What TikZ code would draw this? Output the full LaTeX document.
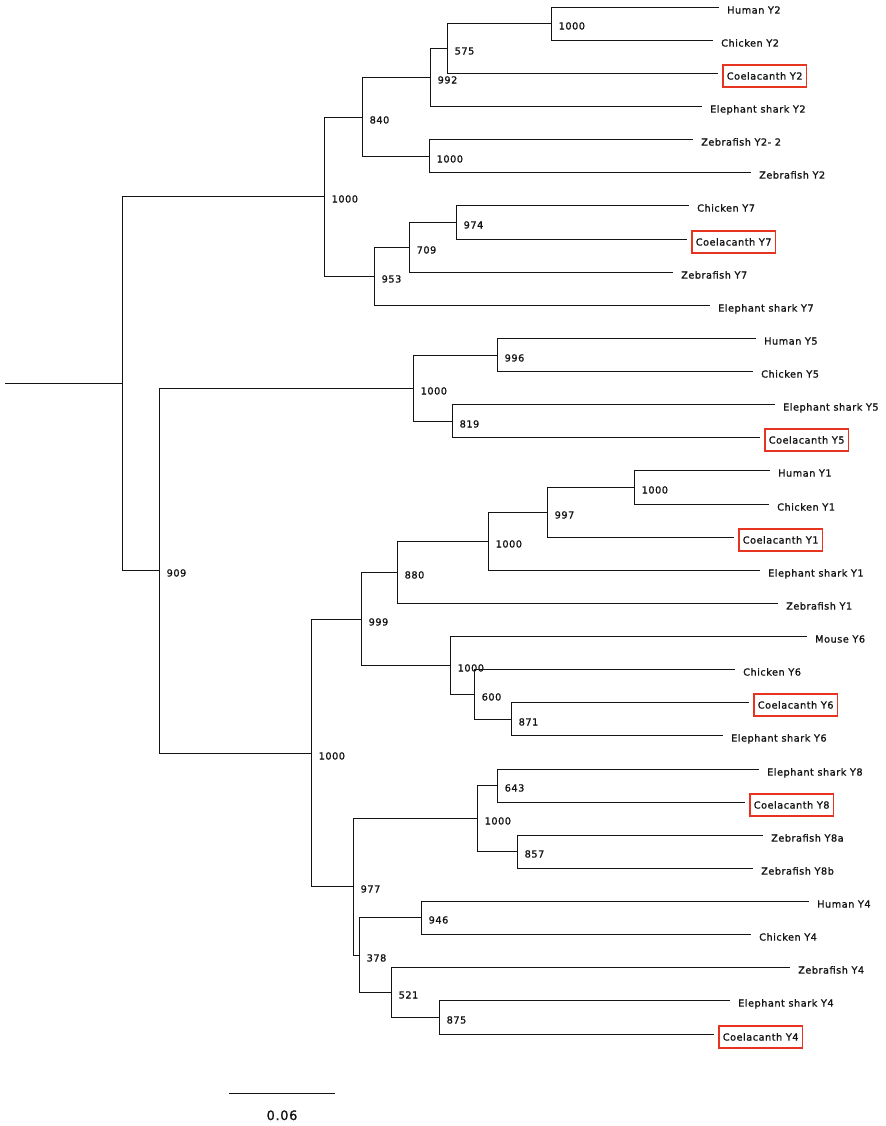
\documentclass[tikz,border=0pt]{standalone}
\usepackage{fontspec}
\newfontfamily\treefont[LetterSpace=5,FakeBold=1.2]{DejaVu Sans}
\usetikzlibrary{positioning}
\definecolor{coelared}{RGB}{230,52,32}
\definecolor{branchgray}{RGB}{20,20,20}

\begin{document}
\begin{tikzpicture}[x=1bp,y=-1bp,
		branch/.style={line width=1.7bp,draw=branchgray},
		leaf/.style={font=\treefont\fontsize{9.8}{11}\selectfont,text=branchgray,inner xsep=4bp,inner ysep=0pt,minimum height=22bp,text height=7.2pt,text depth=0pt,yshift=-2.5bp},
		gene/.style={leaf,draw=coelared,line width=1.6bp},
		boot/.style={font=\treefont\fontsize{9.8}{11}\selectfont,text=branchgray,anchor=base west,inner sep=0pt,xshift=7bp,yshift=-6bp}]
		\useasboundingbox (0,0) rectangle (886,1126);

		\coordinate (HumanY2) at (719,7.5);
		\coordinate (ChickenY2) at (713,40.5);
		\coordinate (CoelacanthY2) at (718,73.5);
		\coordinate (ElephantSharkY2) at (702,106.5);
		\coordinate (ZebrafishY2two) at (693,139.5);
		\coordinate (ZebrafishY2) at (751,172.5);
		\coordinate (ChickenY7) at (689,205.5);
		\coordinate (CoelacanthY7) at (687,239.5);
		\coordinate (ZebrafishY7) at (673,272.5);
		\coordinate (ElephantSharkY7) at (710,305.5);
		\coordinate (HumanY5) at (756,338.5);
		\coordinate (ChickenY5) at (753,371.5);
		\coordinate (ElephantSharkY5) at (775,404.5);
		\coordinate (CoelacanthY5) at (760,437.5);
		\coordinate (HumanY1) at (770,470.5);
		\coordinate (ChickenY1) at (769,504.5);
		\coordinate (CoelacanthY1) at (734,537.5);
		\coordinate (ElephantSharkY1) at (760,570.5);
		\coordinate (ZebrafishY1) at (778,603.5);
		\coordinate (MouseY6) at (807,636.5);
		\coordinate (ChickenY6) at (735,669.5);
		\coordinate (CoelacanthY6) at (749,702.5);
		\coordinate (ElephantSharkY6) at (723,735.5);
		\coordinate (ElephantSharkY8) at (759,769.5);
		\coordinate (CoelacanthY8) at (745,802.5);
		\coordinate (ZebrafishY8a) at (763,835.5);
		\coordinate (ZebrafishY8b) at (753,868.5);
		\coordinate (HumanY4) at (809,901.5);
		\coordinate (ChickenY4) at (751,934.5);
		\coordinate (ZebrafishY4) at (790,967.5);
		\coordinate (ElephantSharkY4) at (730,1000.5);
		\coordinate (CoelacanthY4) at (714,1034.5);

		\node[leaf, right=4bp of HumanY2] (HumanY2Text) {Human Y2};
		\node[leaf, right=4bp of ChickenY2] (ChickenY2Text) {Chicken Y2};
		\node[gene, right=4bp of CoelacanthY2] (CoelacanthY2Text) {Coelacanth Y2};
		\node[leaf, right=4bp of ElephantSharkY2] (ElephantSharkY2Text) {Elephant shark Y2};
		\node[leaf, right=4bp of ZebrafishY2two] (ZebrafishY2twoText) {Zebrafish Y2- 2};
		\node[leaf, right=4bp of ZebrafishY2] (ZebrafishY2Text) {Zebrafish Y2};
		\node[leaf, right=4bp of ChickenY7] (ChickenY7Text) {Chicken Y7};
		\node[gene, right=4bp of CoelacanthY7] (CoelacanthY7Text) {Coelacanth Y7};
		\node[leaf, right=4bp of ZebrafishY7] (ZebrafishY7Text) {Zebrafish Y7};
		\node[leaf, right=4bp of ElephantSharkY7] (ElephantSharkY7Text) {Elephant shark Y7};
		\node[leaf, right=4bp of HumanY5] (HumanY5Text) {Human Y5};
		\node[leaf, right=4bp of ChickenY5] (ChickenY5Text) {Chicken Y5};
		\node[leaf, right=4bp of ElephantSharkY5] (ElephantSharkY5Text) {Elephant shark Y5};
		\node[gene, right=4bp of CoelacanthY5] (CoelacanthY5Text) {Coelacanth Y5};
		\node[leaf, right=4bp of HumanY1] (HumanY1Text) {Human Y1};
		\node[leaf, right=4bp of ChickenY1] (ChickenY1Text) {Chicken Y1};
		\node[gene, right=4bp of CoelacanthY1] (CoelacanthY1Text) {Coelacanth Y1};
		\node[leaf, right=4bp of ElephantSharkY1] (ElephantSharkY1Text) {Elephant shark Y1};
		\node[leaf, right=4bp of ZebrafishY1] (ZebrafishY1Text) {Zebrafish Y1};
		\node[leaf, right=4bp of MouseY6] (MouseY6Text) {Mouse Y6};
		\node[leaf, right=4bp of ChickenY6] (ChickenY6Text) {Chicken Y6};
		\node[gene, right=4bp of CoelacanthY6] (CoelacanthY6Text) {Coelacanth Y6};
		\node[leaf, right=4bp of ElephantSharkY6] (ElephantSharkY6Text) {Elephant shark Y6};
		\node[leaf, right=4bp of ElephantSharkY8] (ElephantSharkY8Text) {Elephant shark Y8};
		\node[gene, right=4bp of CoelacanthY8] (CoelacanthY8Text) {Coelacanth Y8};
		\node[leaf, right=4bp of ZebrafishY8a] (ZebrafishY8aText) {Zebrafish Y8a};
		\node[leaf, right=4bp of ZebrafishY8b] (ZebrafishY8bText) {Zebrafish Y8b};
		\node[leaf, right=4bp of HumanY4] (HumanY4Text) {Human Y4};
		\node[leaf, right=4bp of ChickenY4] (ChickenY4Text) {Chicken Y4};
		\node[leaf, right=4bp of ZebrafishY4] (ZebrafishY4Text) {Zebrafish Y4};
		\node[leaf, right=4bp of ElephantSharkY4] (ElephantSharkY4Text) {Elephant shark Y4};
		\node[gene, right=4bp of CoelacanthY4] (CoelacanthY4Text) {Coelacanth Y4};

		\coordinate (N1000Y2) at (551.5,23.5);
		\coordinate (N575) at (447.5,48.5);
		\coordinate (N992) at (430.5,77.5);
		\coordinate (N1000Zf) at (429.5,156.5);
		\coordinate (N840) at (362.5,117.5);
		\coordinate (N974) at (456.5,222.5);
		\coordinate (N709) at (409.5,247.5);
		\coordinate (N953) at (374.5,276.5);
		\coordinate (N1000Y27) at (324.5,196.5);
		\coordinate (N996) at (497.5,355.5);
		\coordinate (N819) at (452.5,421.5);
		\coordinate (N1000Y5) at (413.5,388.5);
		\coordinate (N1000Y1a) at (634.5,487.5);
		\coordinate (N997) at (547.5,512.5);
		\coordinate (N1000Y1b) at (488.5,541.5);
		\coordinate (N880) at (397.5,572.5);
		\coordinate (N871) at (511.5,719.5);
		\coordinate (N600) at (474.5,694.5);
		\coordinate (N1000Y6) at (450.5,665.5);
		\coordinate (N999) at (361.5,619.5);
		\coordinate (N643) at (497.5,785.5);
		\coordinate (N857) at (517.5,851.5);
		\coordinate (N1000Y8) at (477.5,818.5);
		\coordinate (N946) at (421.5,917.5);
		\coordinate (N875) at (439.5,1017.5);
		\coordinate (N521) at (391.5,992.5);
		\coordinate (N378) at (359.5,955.5);
		\coordinate (N977) at (353.5,886.5);
		\coordinate (N1000Main) at (311.5,753.5);
		\coordinate (N909) at (159.5,570.5);
		\coordinate (NRoot) at (122.5,383.5);
		\coordinate (Origin) at (5,383.5);

		\draw[branch] (HumanY2) -| (N1000Y2) |- (ChickenY2);
		\draw[branch] (N1000Y2) -| (N575) |- (CoelacanthY2);
		\draw[branch] (N575) -| (N992) |- (ElephantSharkY2);
		\draw[branch] (ZebrafishY2two) -| (N1000Zf) |- (ZebrafishY2);
		\draw[branch] (N992) -| (N840) |- (N1000Zf);
		\draw[branch] (ChickenY7) -| (N974) |- (CoelacanthY7);
		\draw[branch] (N974) -| (N709) |- (ZebrafishY7);
		\draw[branch] (N709) -| (N953) |- (ElephantSharkY7);
		\draw[branch] (N840) -| (N1000Y27) |- (N953);
		\draw[branch] (HumanY5) -| (N996) |- (ChickenY5);
		\draw[branch] (ElephantSharkY5) -| (N819) |- (CoelacanthY5);
		\draw[branch] (N996) -| (N1000Y5) |- (N819);
		\draw[branch] (HumanY1) -| (N1000Y1a) |- (ChickenY1);
		\draw[branch] (N1000Y1a) -| (N997) |- (CoelacanthY1);
		\draw[branch] (N997) -| (N1000Y1b) |- (ElephantSharkY1);
		\draw[branch] (N1000Y1b) -| (N880) |- (ZebrafishY1);
		\draw[branch] (CoelacanthY6) -| (N871) |- (ElephantSharkY6);
		\draw[branch] (ChickenY6) -| (N600) |- (N871);
		\draw[branch] (MouseY6) -| (N1000Y6) |- (N600);
		\draw[branch] (N880) -| (N999) |- (N1000Y6);
		\draw[branch] (ElephantSharkY8) -| (N643) |- (CoelacanthY8);
		\draw[branch] (ZebrafishY8a) -| (N857) |- (ZebrafishY8b);
		\draw[branch] (N643) -| (N1000Y8) |- (N857);
		\draw[branch] (HumanY4) -| (N946) |- (ChickenY4);
		\draw[branch] (ElephantSharkY4) -| (N875) |- (CoelacanthY4);
		\draw[branch] (ZebrafishY4) -| (N521) |- (N875);
		\draw[branch] (N946) -| (N378) |- (N521);
		\draw[branch] (N1000Y8) -| (N977) |- (N378);
		\draw[branch] (N999) -| (N1000Main) |- (N977);
		\draw[branch] (N1000Y5) -| (N909) |- (N1000Main);
		\draw[branch] (N1000Y27) -| (NRoot) |- (N909);
		\draw[branch] (NRoot) -- (Origin);

		\node[boot] (B1000Y2) at (N1000Y2) {1000};
		\node[boot] (B575) at (N575) {575};
		\node[boot] (B992) at (N992) {992};
		\node[boot] (B1000Zf) at (N1000Zf) {1000};
		\node[boot] (B840) at (N840) {840};
		\node[boot] (B974) at (N974) {974};
		\node[boot] (B709) at (N709) {709};
		\node[boot] (B953) at (N953) {953};
		\node[boot] (B1000Y27) at (N1000Y27) {1000};
		\node[boot] (B996) at (N996) {996};
		\node[boot] (B819) at (N819) {819};
		\node[boot] (B1000Y5) at (N1000Y5) {1000};
		\node[boot] (B1000Y1a) at (N1000Y1a) {1000};
		\node[boot] (B997) at (N997) {997};
		\node[boot] (B1000Y1b) at (N1000Y1b) {1000};
		\node[boot] (B880) at (N880) {880};
		\node[boot] (B871) at (N871) {871};
		\node[boot] (B600) at (N600) {600};
		\node[boot] (B1000Y6) at (N1000Y6) {1000};
		\node[boot] (B999) at (N999) {999};
		\node[boot] (B643) at (N643) {643};
		\node[boot] (B857) at (N857) {857};
		\node[boot] (B1000Y8) at (N1000Y8) {1000};
		\node[boot] (B946) at (N946) {946};
		\node[boot] (B875) at (N875) {875};
		\node[boot] (B521) at (N521) {521};
		\node[boot] (B378) at (N378) {378};
		\node[boot] (B977) at (N977) {977};
		\node[boot] (B1000Main) at (N1000Main) {1000};
		\node[boot] (B909) at (N909) {909};

		\coordinate (ScaleLeft) at (229,1093.5);
		\coordinate (ScaleRight) at (335,1093.5);
		\draw[branch] (ScaleLeft) -- (ScaleRight);
		\node[font=\treefont\fontsize{13}{15}\selectfont,text=branchgray,anchor=base,inner sep=0pt] (ScaleText) at (282,1120) {0.06};
\end{tikzpicture}
\end{document}
